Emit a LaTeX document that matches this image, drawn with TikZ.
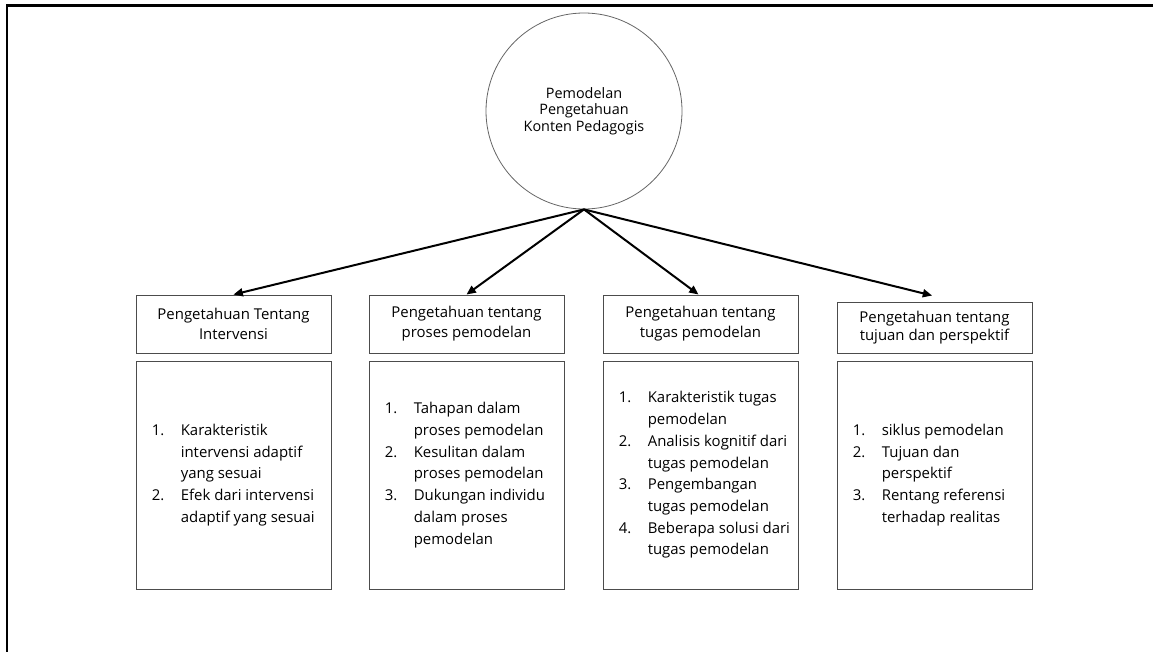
\documentclass[tikz,border=0pt]{standalone}
\usepackage{fontspec}
\setmainfont{Open Sans}
\usetikzlibrary{arrows.meta}
\newcommand\lnum[1]{\makebox[21.75pt][l]{#1}}
\newcommand\lind{\hspace*{21.75pt}}
\tikzset{
  frame/.style={line width=1.6pt, black},
  hub/.style={circle, draw=black!60, line width=0.6pt, minimum size=147pt, inner sep=0pt, align=center, text=black,
    font=\fontsize{10.8pt}{12.5pt}\selectfont},
  titlebox/.style={draw=black!70, line width=0.7pt, minimum width=146.25pt, minimum height=43.5pt, inner sep=0pt, align=center, text=black,
    font=\fontsize{11.2pt}{15pt}\selectfont},
  listbox/.style={draw=black!70, line width=0.7pt, minimum width=146.25pt, minimum height=171pt, inner sep=0pt},
  listtext/.style={anchor=west, inner sep=0pt, align=left, text=black, font=\fontsize{11.2pt}{16.3pt}\selectfont},
  arr/.style={line width=1.5pt, -{Triangle[length=7pt,width=6pt]}}
}
\begin{document}
\begin{tikzpicture}[x=0.75pt,y=-0.75pt]
\useasboundingbox (0,0) rectangle (1153,652);
\draw[frame] (7,652) -- (7,5.5) -- (1153,5.5);
\node[hub] (c) at (584,111) {Pemodelan\\Pengetahuan\\Konten Pedagogis};
\node[titlebox] (t1) at (233.5,324) {Pengetahuan Tentang\\Intervensi};
\node[titlebox] (t2) at (466.5,324) {Pengetahuan tentang\\proses pemodelan};
\node[titlebox] (t3) at (700.5,324) {Pengetahuan tentang\\tugas pemodelan};
\node[titlebox, minimum height=38.25pt] (t4) at (934.5,327.5) {\raisebox{3pt}{\begin{tabular}{@{}c@{}}Pengetahuan tentang\\[-1pt]tujuan dan perspektif\end{tabular}}};
\node[listbox] (b1) at (233.5,475) {};
\node[listbox] (b2) at (466.5,475) {};
\node[listbox] (b3) at (700.5,475) {};
\node[listbox] (b4) at (934.5,475) {};
\node[listtext] (l1) at ([xshift=12pt]b1.west) {\lnum{1.}Karakteristik\\\lind intervensi adaptif\\\lind yang sesuai\\\lnum{2.}Efek dari intervensi\\\lind adaptif yang sesuai};
\node[listtext] (l2) at ([xshift=12pt]b2.west) {\lnum{1.}Tahapan dalam\\\lind proses pemodelan\\\lnum{2.}Kesulitan dalam\\\lind proses pemodelan\\\lnum{3.}Dukungan individu\\\lind dalam proses\\\lind pemodelan};
\node[listtext] (l3) at ([xshift=12pt]b3.west) {\lnum{1.}Karakteristik tugas\\\lind pemodelan\\\lnum{2.}Analisis kognitif dari\\\lind tugas pemodelan\\\lnum{3.}Pengembangan\\\lind tugas pemodelan\\\lnum{4.}Beberapa solusi dari\\\lind tugas pemodelan};
\node[listtext] (l4) at ([xshift=12pt]b4.west) {\lnum{1.}siklus pemodelan\\\lnum{2.}Tujuan dan\\\lind perspektif\\\lnum{3.}Rentang referensi\\\lind terhadap realitas};
\draw[arr] (c.south) -- (t1.north);
\draw[arr] (c.south) -- (t2.north);
\draw[arr] (c.south) -- ([xshift=-1.5pt]t3.north);
\draw[arr] (c.south) -- ([xshift=-1.8pt,yshift=4.5pt]t4.north);
\end{tikzpicture}
\end{document}
